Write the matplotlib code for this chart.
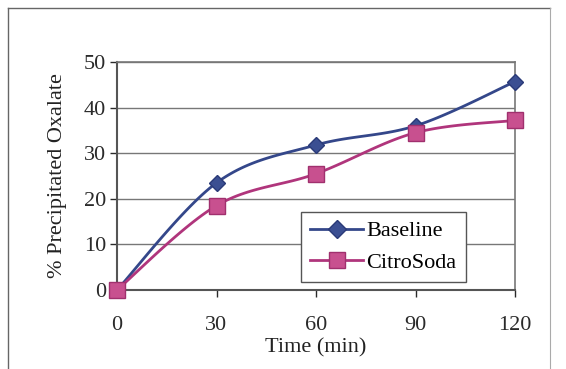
import numpy as np
import matplotlib
matplotlib.use("Agg")
import matplotlib.pyplot as plt
from matplotlib.lines import Line2D

time_min = [0, 30, 60, 90, 120]
baseline = [0, 23.5, 31.8, 36.0, 45.7]
citrosoda = [0, 18.5, 25.5, 34.5, 37.2]
x_ticks = [0, 30, 60, 90, 120]
y_ticks = [0, 10, 20, 30, 40, 50]
y_tick_labels = ["0", "10", "20", "30", "40", "50"]

plt.rcParams['font.family'] = ['Liberation Serif', 'DejaVu Serif']

def smooth(xs, ys, n=30, t=0.5):
    xs = np.asarray(xs, float); ys = np.asarray(ys, float)
    P = np.column_stack([xs, ys])
    out = []
    for i in range(len(P) - 1):
        p0 = P[i - 1] if i > 0 else P[i]
        p1, p2 = P[i], P[i + 1]
        p3 = P[i + 2] if i + 2 < len(P) else P[i + 1]
        c1 = p1 + (p2 - p0) * t / 3
        c2 = p2 - (p3 - p1) * t / 3
        s = np.linspace(0, 1, n)[:, None]
        seg = (1 - s) ** 3 * p1 + 3 * (1 - s) ** 2 * s * c1 + 3 * (1 - s) * s ** 2 * c2 + s ** 3 * p2
        out.append(seg if i == 0 else seg[1:])
    seg = np.vstack(out)
    return seg[:, 0], seg[:, 1]

W, H = 566, 369
fig = plt.figure(figsize=(W / 100, H / 100), dpi=100)
ax_l, ax_r, ax_t, ax_b = 117, 515, 62, 290
ax = fig.add_axes([ax_l / W, 1 - ax_b / H, (ax_r - ax_l) / W, (ax_b - ax_t) / H])

blue = '#34478a'
pink = '#b0357c'
pinkfill = '#c8508f'

bx, by = smooth(time_min, baseline)
cx, cy = smooth(time_min, citrosoda)
ax.plot(bx, by, color=blue, lw=2, zorder=3, clip_on=False)
ax.plot(time_min, baseline, ls='none', marker='D', ms=8, color=blue, mfc='#3b4f92', mec='#2a3a78', zorder=4, clip_on=False)
ax.plot(cx, cy, color=pink, lw=2, zorder=3, clip_on=False)
ax.plot(time_min, citrosoda, ls='none', marker='s', ms=11, mfc=pinkfill, mec='#a0306e', zorder=5, clip_on=False)

ax.set_xlim(0, 120)
ax.set_ylim(0, 50)
ax.set_xticks(x_ticks)
ax.set_yticks(y_ticks)
ax.set_yticklabels(y_tick_labels)
ax.tick_params(axis='both', labelsize=16, colors='#2a2a2a', direction='out', length=5, width=1)
ax.tick_params(axis='x', pad=14)
ax.tick_params(axis='y', pad=3)
ax.yaxis.grid(True, color='#777777', lw=1)
ax.set_axisbelow(True)
for s in ['left', 'bottom']:
    ax.spines[s].set_color('#555555'); ax.spines[s].set_linewidth(1.5)
for s in ['top', 'right']:
    ax.spines[s].set_color('#777777'); ax.spines[s].set_linewidth(1.2)

ax.set_xlabel('Time (min)', fontsize=16, color='#222222', labelpad=2)
ax.set_ylabel('% Precipitated Oxalate', fontsize=16, color='#222222', labelpad=12)

handles = [Line2D([], [], color=blue, lw=2, marker='D', ms=9, mfc='#3b4f92', mec='#2a3a78'),
           Line2D([], [], color=pink, lw=2, marker='s', ms=11, mfc=pinkfill, mec='#a0306e')]
leg = ax.legend(handles, ['Baseline', 'CitroSoda'], loc='lower left',
                bbox_to_anchor=((301 - ax_l) / (ax_r - ax_l), (ax_b - 282) / (ax_b - ax_t)),
                fontsize=16, frameon=True, fancybox=False, framealpha=1,
                edgecolor='#555555', handlelength=2.4, handletextpad=0.15,
                borderpad=0.4, labelspacing=0.5, borderaxespad=0)
leg.get_frame().set_linewidth(1.0)

# outer frame
fig.add_artist(Line2D([8 / W, 8 / W], [0, 1 - 8 / H], transform=fig.transFigure, color='#666666', lw=1))
fig.add_artist(Line2D([8 / W, 550 / W], [1 - 8 / H, 1 - 8 / H], transform=fig.transFigure, color='#666666', lw=1))
fig.add_artist(Line2D([550 / W, 550 / W], [0, 1 - 8 / H], transform=fig.transFigure, color='#aaaaaa', lw=0.8))

fig.savefig('out.png', dpi=100)
